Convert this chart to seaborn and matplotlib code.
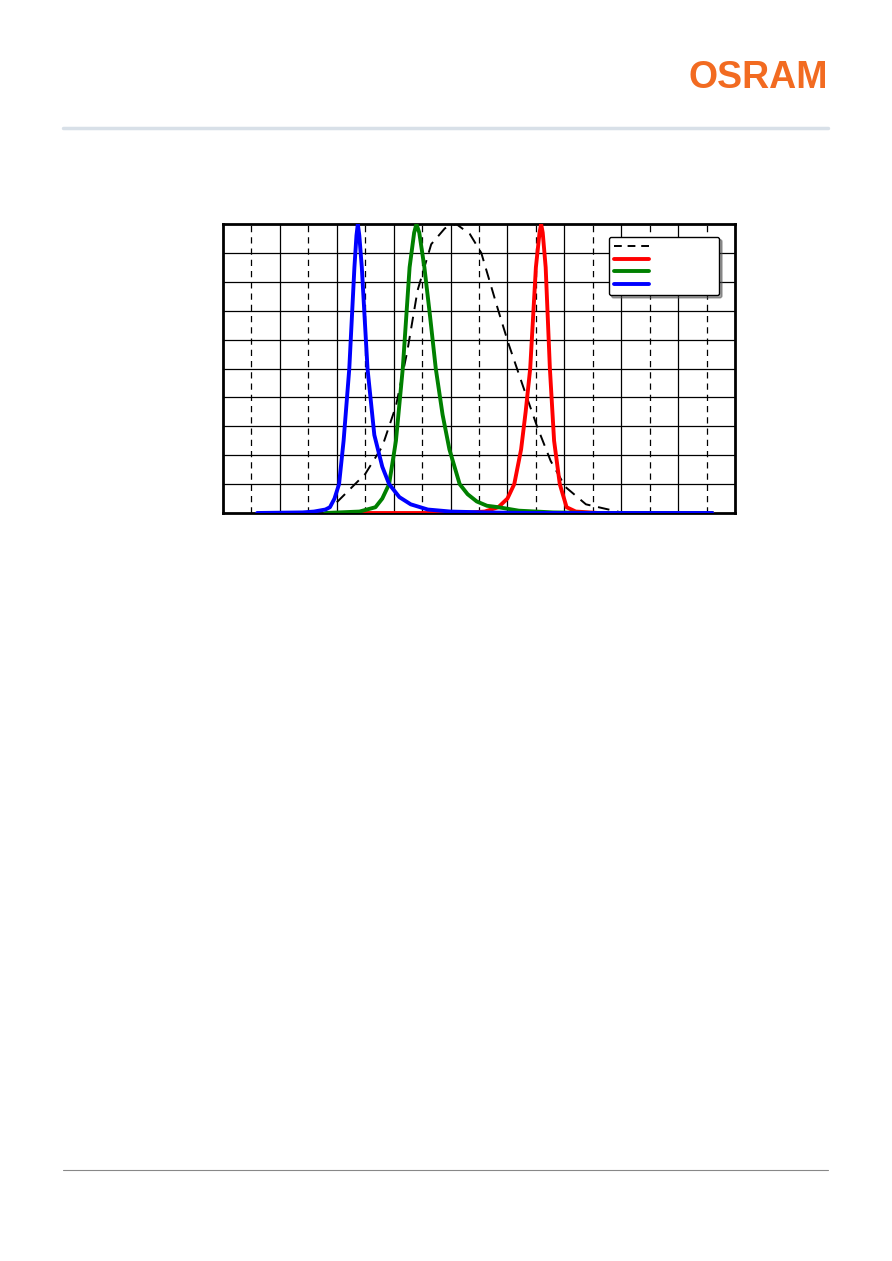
import matplotlib
matplotlib.use("Agg")
import matplotlib.pyplot as plt
import seaborn as sns
from matplotlib.lines import Line2D

# --- data (wavelength nm, relative intensity) ---
v_nm = [450, 475, 490, 502, 512, 521, 533, 545, 555, 567, 577, 592, 601, 614, 626, 638, 651, 669, 700, 720]
v_val = [0.037, 0.135, 0.23, 0.37, 0.56, 0.77, 0.93, 0.985, 1.0, 0.965, 0.9, 0.7, 0.585, 0.435, 0.3, 0.18, 0.09, 0.03, 0.002, 0.0]

blue_nm = [380, 420, 430, 440, 444, 448, 452, 456, 461, 465.5, 467.3, 468.5, 469.8, 472, 477, 483, 490, 496, 505, 515, 530, 550, 580, 620, 780]
blue_val = [0, 0.002, 0.005, 0.012, 0.02, 0.05, 0.1, 0.25, 0.5, 0.85, 0.96, 1.0, 0.96, 0.85, 0.5, 0.27, 0.16, 0.1, 0.055, 0.03, 0.012, 0.005, 0.002, 0, 0]

green_nm = [440, 470, 484, 490, 496, 502, 508, 514, 518, 520, 522.5, 527, 532, 537, 543, 549, 558, 565, 573, 582, 592, 610, 640, 680, 780]
green_val = [0, 0.005, 0.02, 0.05, 0.1, 0.25, 0.5, 0.85, 0.97, 1.0, 0.97, 0.85, 0.68, 0.5, 0.34, 0.22, 0.1, 0.065, 0.04, 0.025, 0.02, 0.008, 0.002, 0, 0]

red_nm = [460, 560, 580, 592, 600, 606, 612, 616, 620, 625, 628.2, 629.6, 631, 633.6, 637.3, 641, 646, 652, 660, 680, 780]
red_val = [0, 0, 0.005, 0.02, 0.05, 0.1, 0.22, 0.35, 0.5, 0.85, 0.97, 1.0, 0.97, 0.85, 0.5, 0.25, 0.1, 0.02, 0.005, 0, 0]

x_ticks = list(range(375, 800, 25))
y_ticks = [i / 10 for i in range(1, 10)]

sns.set_theme(style="white")
fig = plt.figure(figsize=(8.92, 12.61), dpi=100)

# header / footer
fig.text(828 / 892, 1 - 78 / 1261, "OSRAM", color="#F26B21", fontsize=27, fontweight="bold",
         family=["Liberation Sans", "DejaVu Sans"], ha="right", va="center")
fig.add_artist(Line2D([63 / 892, 828 / 892], [1 - 128 / 1261] * 2, color="#d8e0e8", lw=2.5))
fig.add_artist(Line2D([63 / 892, 828 / 892], [1 - 1170 / 1261] * 2, color="#888888", lw=0.8))

ax = fig.add_axes([223 / 892, 1 - 513 / 1261, 512 / 892, 289 / 1261])
ax.set_xlim(350, 800)
ax.set_ylim(0, 1)
for i, x in enumerate(x_ticks):
    ax.axvline(x, color="black", lw=0.9, ls="-" if i % 2 == 1 else (0, (5, 4)), zorder=1)
for y in y_ticks:
    ax.axhline(y, color="black", lw=0.9, zorder=1)

lw = 2.8
sns.lineplot(x=v_nm, y=v_val, ax=ax, color="black", lw=1.4, ls=(0, (6, 4)), zorder=3)
sns.lineplot(x=red_nm, y=red_val, ax=ax, color="#ff0000", lw=lw, zorder=4)
sns.lineplot(x=green_nm, y=green_val, ax=ax, color="#008000", lw=lw, zorder=5)
sns.lineplot(x=blue_nm, y=blue_val, ax=ax, color="#0000ff", lw=lw, zorder=6)

ax.set_xticks([]); ax.set_yticks([])
ax.set_xlabel(""); ax.set_ylabel("")
for s in ax.spines.values():
    s.set_color("black"); s.set_linewidth(2)

handles = [Line2D([], [], color="black", lw=1.4, ls=(0, (4, 3))),
           Line2D([], [], color="#ff0000", lw=lw),
           Line2D([], [], color="#008000", lw=lw),
           Line2D([], [], color="#0000ff", lw=lw)]
leg = ax.legend(handles, ["                "] * 4, loc="upper right", bbox_to_anchor=(0.98, 0.975),
                frameon=True, shadow=True, fancybox=True, fontsize=8, handlelength=3.2,
                labelspacing=0.25, borderpad=0.45, framealpha=1)
leg.get_frame().set_edgecolor("black")
leg.get_frame().set_linewidth(1)

fig.savefig("out.png", dpi=100)
